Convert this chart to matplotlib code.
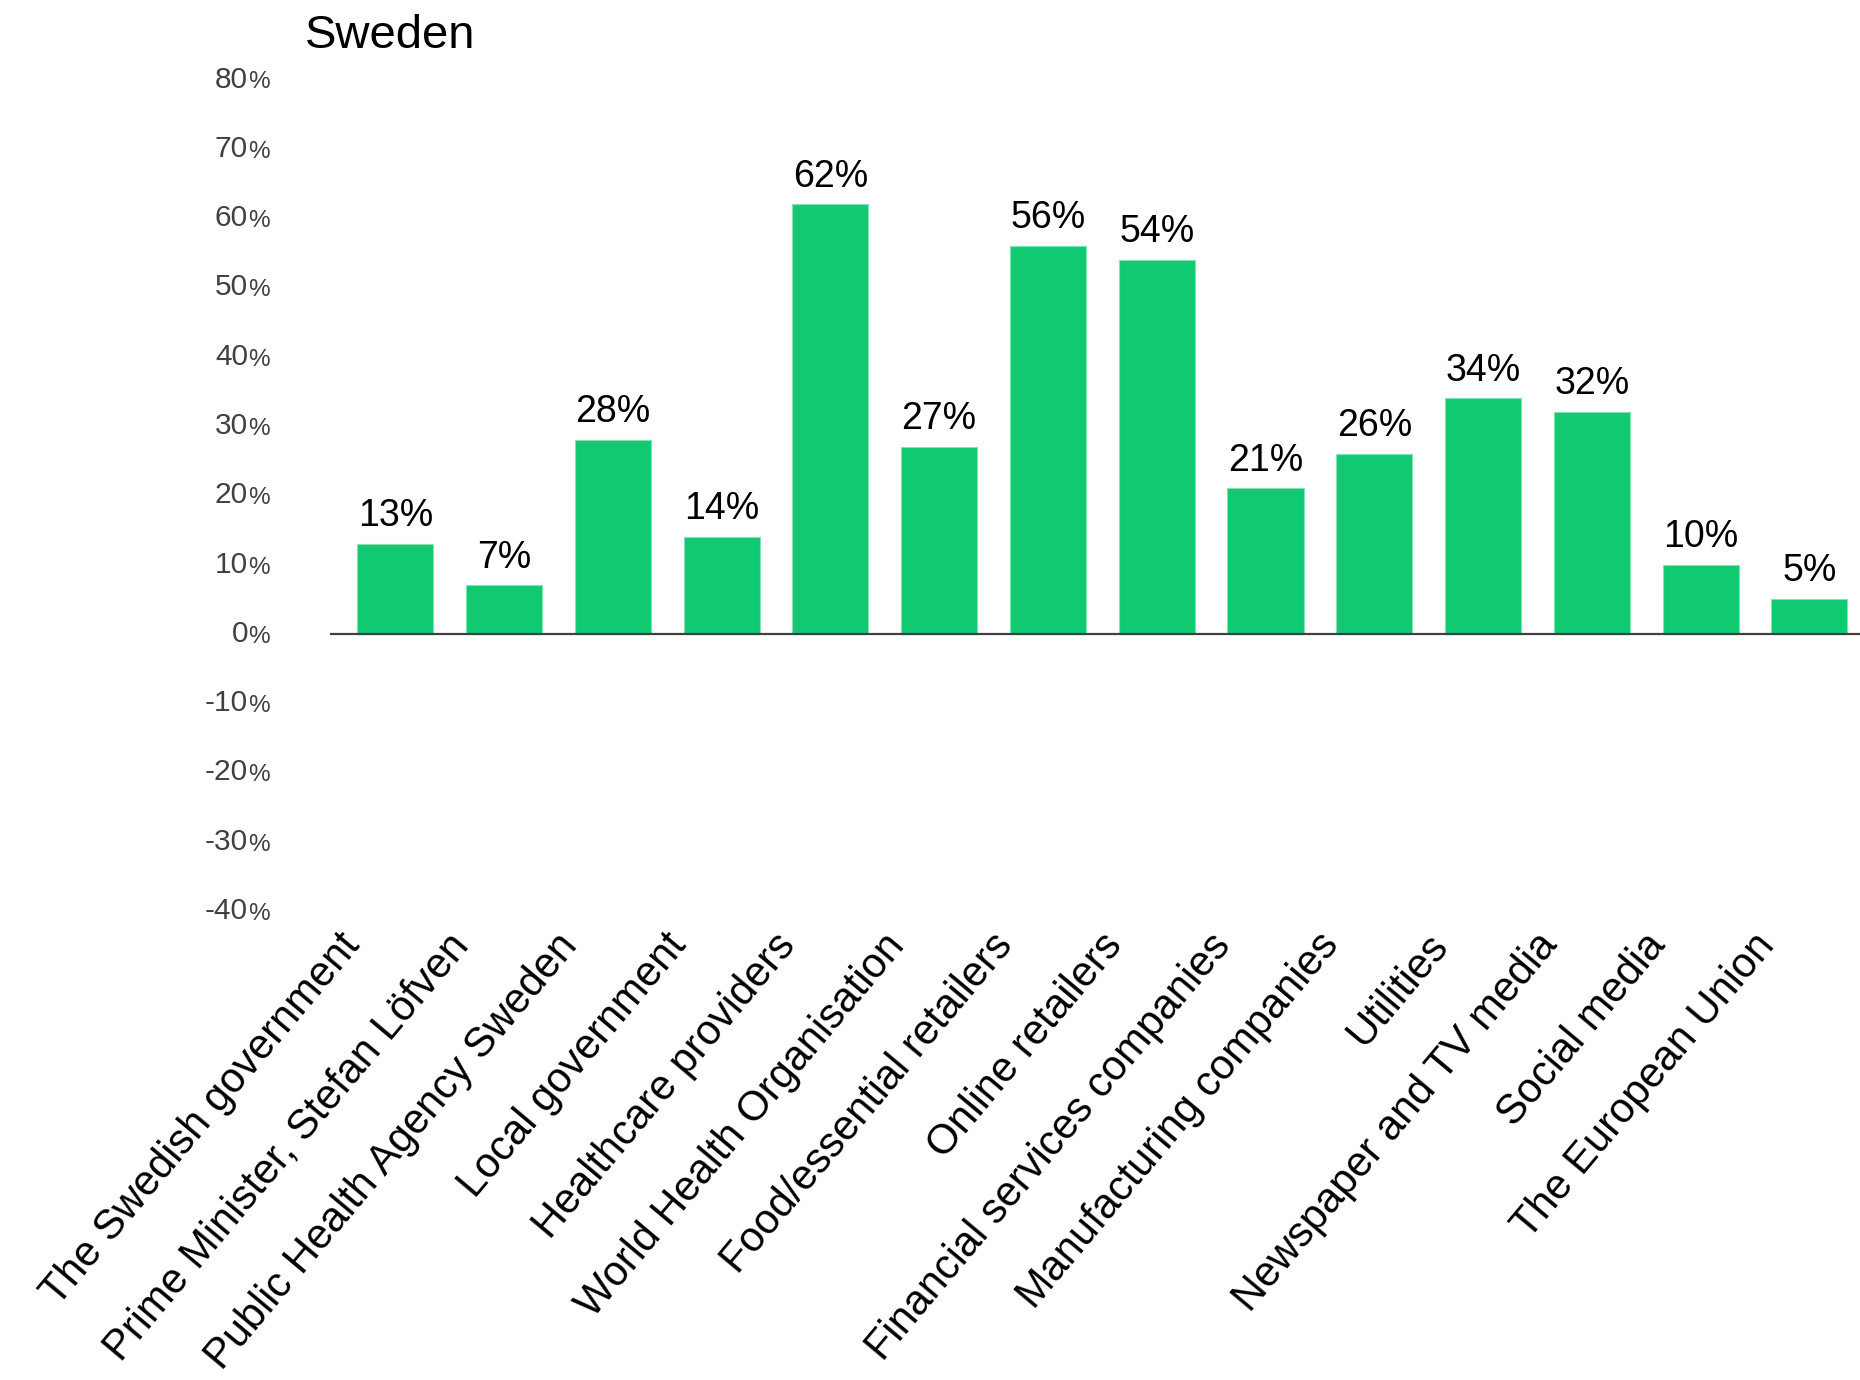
import numpy as np
import matplotlib.pyplot as plt
import matplotlib.transforms as mtransforms

plt.rcParams["font.family"] = ["Liberation Sans", "DejaVu Sans"]

categories = [
    "The Swedish government",
    "Prime Minister, Stefan Löfven",
    "Public Health Agency Sweden",
    "Local government",
    "Healthcare providers",
    "World Health Organisation",
    "Food/essential retailers",
    "Online retailers",
    "Financial services companies",
    "Manufacturing companies",
    "Utilities",
    "Newspaper and TV media",
    "Social media",
    "The European Union",
]
values = [13, 7, 28, 14, 62, 27, 56, 54, 21, 26, 34, 32, 10, 5]
y_ticks = [80, 70, 60, 50, 40, 30, 20, 10, 0, -10, -20, -30, -40]

BAR_COLOR = "#10CA72"
TICK_COLOR = "#404040"

fig = plt.figure(figsize=(18.6, 13.8), dpi=100)
ax = fig.add_axes([330 / 1860, 1 - 911 / 1380, 1 - 330 / 1860, (911 - 79.5) / 1380])

x = np.arange(len(categories))
ax.bar(x, values, width=0.7, color=BAR_COLOR, edgecolor="#7FE3B3", linewidth=0.8, zorder=2)
ax.axhline(0, color=TICK_COLOR, linewidth=1.6, zorder=3)

ax.set_xlim(-0.6, len(categories) - 0.535)
ax.set_ylim(-40, 80)

for s in ax.spines.values():
    s.set_visible(False)
ax.set_yticks([])
ax.tick_params(axis="x", length=0, pad=20)

ax.set_xticks(x)
ax.set_xticklabels(categories, rotation=50, ha="right", va="center",
                   rotation_mode="anchor", fontsize=30)
shift = mtransforms.ScaledTranslation(-42 / 100, 0, fig.dpi_scale_trans)
for lbl in ax.get_xticklabels():
    lbl.set_transform(lbl.get_transform() + shift)

# value labels above each bar
for xi, v in zip(x, values):
    ax.annotate(f"{v}%", xy=(xi, v), xytext=(0, 7), textcoords="offset points",
                ha="center", va="bottom", fontsize=27, color="black")

# y tick labels: number with a smaller percent sign
blend = mtransforms.blended_transform_factory(fig.transFigure, ax.transData)
for t in y_ticks:
    num = ax.text(248 / 1860, t, f"{t}", transform=blend, ha="right", va="center",
                  fontsize=21.5, color=TICK_COLOR, clip_on=False)
    ax.annotate("%", xy=(1, 0), xycoords=num, xytext=(0, 0), textcoords="offset points",
                ha="left", va="bottom", fontsize=17.5, color=TICK_COLOR)

fig.text(305 / 1860, 1 - 36 / 1380, "Sweden", ha="left", va="center", fontsize=34)

fig.savefig("out.png", dpi=100)
